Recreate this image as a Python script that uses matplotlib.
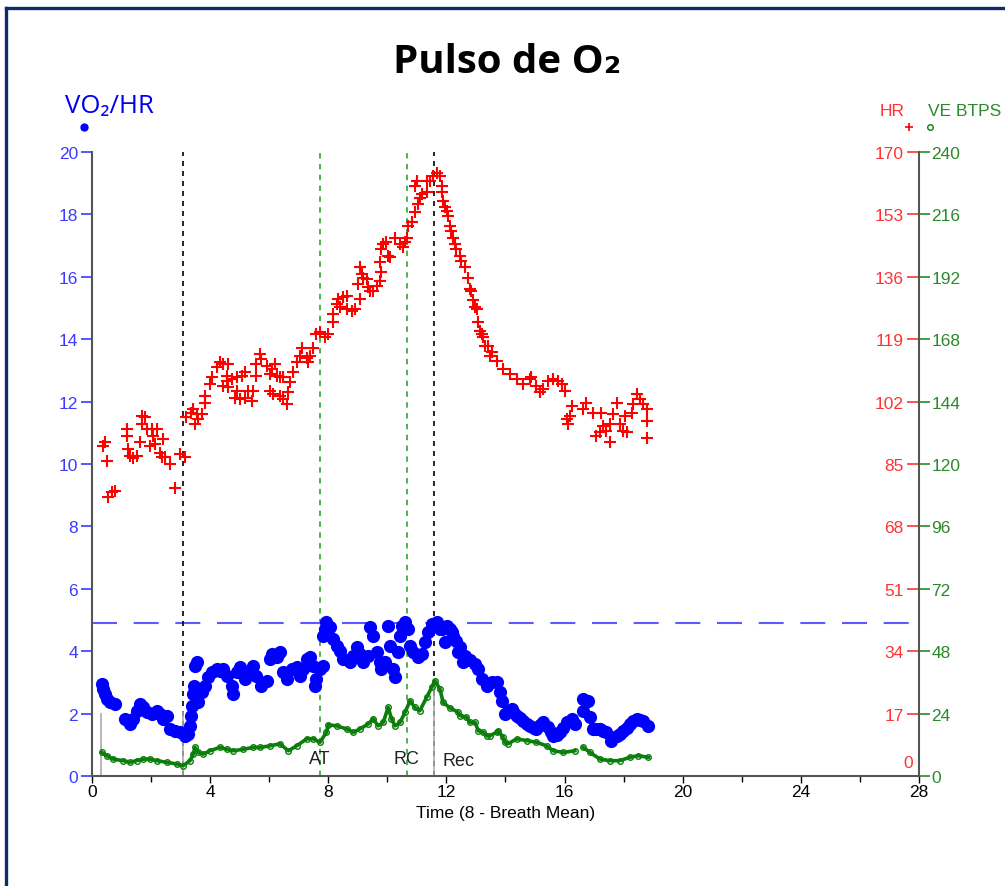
import numpy as np
import matplotlib
matplotlib.use("Agg")
import matplotlib.pyplot as plt
from matplotlib.lines import Line2D
from matplotlib.ticker import MultipleLocator

# =========================
# Daten
# =========================
# VO2/HR (ml/Schlag), linke Achse
vo2hr_t = [0.33, 0.38, 0.44, 0.50, 0.61, 0.78, 1.12, 1.29, 1.40, 1.51, 1.62, 1.74, 1.85, 2.02,
           2.19, 2.30, 2.41, 2.53, 2.64, 2.81, 2.98, 3.15, 3.26, 3.32, 3.37, 3.40, 3.43, 3.46,
           3.49, 3.54, 3.60, 3.71, 3.83, 3.94, 4.05, 4.22, 4.33, 4.44, 4.56, 4.73, 4.78, 4.90,
           5.01, 5.18, 5.35, 5.46, 5.57, 5.74, 5.91, 6.03, 6.08, 6.25, 6.36, 6.48, 6.59, 6.76,
           6.93, 7.04, 7.15, 7.27, 7.38, 7.49, 7.55, 7.60, 7.72, 7.83, 7.83, 7.89, 7.94, 8.06,
           8.17, 8.28, 8.40, 8.51, 8.73, 8.85, 8.96, 9.07, 9.18, 9.35, 9.41, 9.52, 9.64, 9.75,
           9.80, 9.92, 10.03, 10.09, 10.20, 10.26, 10.37, 10.43, 10.49, 10.60, 10.71, 10.77,
           10.88, 11.05, 11.16, 11.27, 11.38, 11.50, 11.55, 11.67, 11.78, 11.84, 11.95, 12.01,
           12.12, 12.18, 12.23, 12.34, 12.40, 12.46, 12.57, 12.63, 12.80, 12.97, 13.08, 13.19,
           13.36, 13.53, 13.70, 13.81, 13.87, 13.98, 14.10, 14.21, 14.30, 14.38, 14.50, 14.60,
           14.72, 14.83, 14.95, 15.05, 15.17, 15.28, 15.45, 15.55, 15.62, 15.73, 15.84, 15.96,
           16.07, 16.24, 16.35, 16.63, 16.80, 16.63, 16.86, 16.97, 17.08, 17.20, 17.31, 17.42,
           17.59, 17.76, 17.87, 17.98, 18.10, 18.21, 18.32, 18.44, 18.55, 18.66, 18.84]
vo2hr = [2.95, 2.79, 2.63, 2.47, 2.36, 2.31, 1.83, 1.67, 1.83, 2.09, 2.31, 2.20, 2.04, 1.99,
         2.09, 1.99, 1.83, 1.93, 1.51, 1.45, 1.40, 1.29, 1.35, 1.61, 1.93, 2.25, 2.63, 2.89,
         3.54, 3.64, 2.36, 2.68, 2.89, 3.16, 3.32, 3.43, 3.38, 3.43, 3.21, 2.89, 2.63, 3.32,
         3.48, 3.11, 3.32, 3.54, 3.21, 2.89, 3.05, 3.75, 3.91, 3.80, 3.96, 3.32, 3.11, 3.43,
         3.48, 3.21, 3.43, 3.75, 3.80, 3.54, 2.89, 3.11, 3.43, 3.54, 4.50, 4.71, 4.95, 4.77,
         4.39, 4.18, 4.02, 3.75, 3.64, 3.86, 4.12, 3.91, 3.64, 3.86, 4.77, 4.50, 3.96, 3.64,
         3.43, 3.64, 4.82, 4.18, 3.43, 3.16, 3.96, 4.50, 4.82, 4.93, 4.71, 4.18,
         3.96, 3.80, 3.91, 4.29, 4.60, 4.87, 4.82, 4.93, 4.71, 4.71, 4.29, 4.82,
         4.71, 4.60, 4.50, 4.34, 3.96, 4.12, 3.64, 3.86, 3.72, 3.59, 3.43, 3.11,
         2.89, 3.00, 3.00, 2.68, 2.40, 2.00, 2.08, 2.15, 2.02, 1.93, 1.85, 1.77,
         1.68, 1.61, 1.55, 1.51, 1.62, 1.72, 1.56, 1.40, 1.29, 1.33, 1.40, 1.55,
         1.72, 1.83, 1.67, 2.47, 2.41, 2.09, 1.88, 1.51, 1.50, 1.51, 1.45, 1.40,
         1.13, 1.29, 1.36, 1.45, 1.55, 1.67, 1.75, 1.83, 1.80, 1.77, 1.61]

# Herzfrequenz (1/min)
hr_t = [0.38, 0.44, 0.50, 0.55, 0.67, 0.78, 1.17, 1.17, 1.23, 1.29, 1.40, 1.51, 1.62, 1.68,
        1.68, 1.79, 1.85, 1.96, 2.02, 2.07, 2.13, 2.19, 2.30, 2.36, 2.41, 2.47, 2.64, 2.81,
        2.98, 3.15, 3.20, 3.37, 3.43, 3.49, 3.54, 3.60, 3.71, 3.83, 3.83, 3.99, 4.05, 4.22,
        4.33, 4.44, 4.44, 4.56, 4.56, 4.61, 4.61, 4.73, 4.84, 4.90, 4.90, 5.01, 5.07, 5.18,
        5.18, 5.29, 5.41, 5.46, 5.57, 5.57, 5.69, 5.74, 5.91, 6.03, 6.03, 6.08, 6.14, 6.20,
        6.25, 6.36, 6.36, 6.48, 6.48, 6.59, 6.65, 6.70, 6.81, 6.93, 7.04, 7.10, 7.27, 7.32,
        7.38, 7.49, 7.60, 7.72, 7.89, 8.00, 8.17, 8.17, 8.28, 8.34, 8.40, 8.51, 8.62, 8.62,
        8.79, 8.90, 9.01, 9.07, 9.07, 9.13, 9.18, 9.30, 9.35, 9.41, 9.52, 9.64, 9.75, 9.75,
        9.80, 9.80, 9.86, 9.97, 10.03, 10.09, 10.26, 10.43, 10.54, 10.60, 10.65, 10.71, 10.82,
        10.93, 10.93, 10.99, 11.05, 11.10, 11.16, 11.33, 11.33, 11.44, 11.55, 11.67, 11.78,
        11.84, 11.84, 11.89, 11.95, 12.01, 12.06, 12.12, 12.17, 12.23, 12.29, 12.34, 12.46,
        12.51, 12.63, 12.74, 12.80, 12.85, 12.91, 12.97, 13.02, 13.08, 13.13, 13.19, 13.25,
        13.30, 13.42, 13.47, 13.53, 13.70, 13.92, 14.15, 14.38, 14.60, 14.83, 14.88, 15.05,
        15.17, 15.28, 15.45, 15.62, 15.79, 15.90, 16.01, 16.07, 16.12, 16.18, 16.24, 16.63,
        16.74, 16.97, 17.08, 17.20, 17.25, 17.31, 17.42, 17.53, 17.53, 17.64, 17.76, 17.87,
        17.98, 18.04, 18.10, 18.27, 18.32, 18.44, 18.55, 18.66, 18.78, 18.78, 18.78]
hr_bpm = [90.0, 91.0, 85.9, 76.0, 77.4, 77.7, 94.5, 92.7, 89.1, 87.3, 86.7, 87.3, 91.0, 98.2,
          95.9, 97.7, 94.5, 90.0, 94.5, 92.7, 90.4, 94.5, 88.1, 86.8, 91.8, 86.8, 85.0, 78.6,
          87.7, 86.8, 97.7, 99.0, 100.0, 95.9, 98.6, 97.2, 98.6, 101.7, 103.5, 106.8, 108.6, 111.4,
          112.7, 112.2, 106.3, 109.1, 107.6, 112.2, 105.9, 108.1, 103.1, 108.6, 105.0, 102.7, 109.1, 110.0,
          103.1, 105.0, 102.3, 105.0, 112.2, 109.1, 115.0, 113.6, 111.8, 109.5, 105.0, 110.8, 104.0, 112.2,
          109.1, 108.6, 103.5, 108.6, 102.7, 101.3, 104.6, 107.3, 110.0, 112.7, 114.5, 116.7, 114.0, 112.7,
          114.5, 116.7, 120.4, 120.9, 119.5, 120.4, 123.6, 125.9, 128.6, 130.0, 127.7, 130.4, 130.8, 127.2,
          126.7, 127.2, 134.0, 138.6, 130.0, 136.8, 135.8, 135.4, 133.1, 132.2, 132.2, 133.5, 134.9, 139.9,
          137.2, 143.6, 144.9, 145.4, 141.8, 141.3, 146.7, 144.9, 144.0, 145.4, 146.7, 149.9, 150.8,
          153.6, 160.7, 162.1, 155.8, 157.6, 158.5, 159.0, 162.1, 162.1, 163.5, 164.4, 163.5,
          160.7, 159.0, 156.7, 154.9, 154.0, 152.7, 149.9, 148.6, 146.7, 144.9, 143.6, 141.8,
          140.3, 138.6, 135.8, 132.6, 132.2, 129.7, 127.7, 127.2, 123.8, 121.3, 120.4, 119.5,
          117.2, 117.2, 114.5, 115.4, 113.1, 110.8, 109.5, 108.1, 106.8, 108.1, 108.6, 106.3,
          104.5, 105.4, 107.7, 108.1, 107.7, 106.8, 105.0, 97.2, 95.9, 98.2, 100.8, 100.0,
          101.7, 99.0, 92.7, 93.6, 99.0, 95.4, 94.0, 90.9, 95.9, 98.6, 101.7, 95.9,
          94.0, 98.2, 93.6, 99.0, 101.3, 104.0, 102.7, 101.3, 100.0, 96.7, 92.2]

# Ventilation VE BTPS (l/min), Luecke bei ~16.5 min
ve_t = [0.33, 0.50, 0.72, 1.06, 1.29, 1.51, 1.74, 1.96, 2.19, 2.53, 2.87, 3.09, 3.32, 3.43,
        3.49, 3.60, 3.77, 3.99, 4.33, 4.56, 4.78, 5.12, 5.46, 5.69, 6.03, 6.36, 6.65, 6.93,
        7.27, 7.49, 7.72, 7.94, 8.00, 8.28, 8.62, 8.85, 9.07, 9.35, 9.52, 9.69, 9.86, 10.03,
        10.14, 10.26, 10.43, 10.60, 10.77, 10.93, 11.10, 11.33, 11.50, 11.61, 11.78, 11.89,
        12.12, 12.40, 12.46, 12.68, 12.80, 12.97, 13.08, 13.25, 13.36, 13.47, 13.70, 13.76,
        13.92, 13.98, 14.09, 14.38, 14.72, 15.05, 15.39, 15.62, 15.96, 16.35, 16.50, 16.63,
        16.86, 17.20, 17.53, 17.87, 18.21, 18.49, 18.84]
ve = [9.1, 7.8, 6.5, 5.9, 5.3, 5.9, 6.5, 6.5, 5.9, 5.3, 4.6, 4.0, 5.9, 8.4,
      11.0, 9.1, 8.4, 9.7, 11.0, 10.3, 9.7, 10.3, 11.0, 11.0, 11.6, 12.4, 9.7, 11.6,
      14.3, 14.3, 13.0, 16.8, 19.7, 19.3, 18.1, 16.8, 18.1, 20.0, 22.0, 19.3, 20.6, 26.4,
      22.0, 19.3, 20.6, 24.5, 28.9, 26.4, 25.1, 30.2, 34.1, 36.6, 33.5, 28.3,
      26.2, 24.5, 23.2, 22.6, 20.6, 20.6, 17.4, 16.8, 15.5, 15.5, 16.8, 17.4,
      14.9, 13.0, 12.4, 14.3, 13.6, 13.0, 11.6, 9.7, 9.1, 9.7, np.nan, 11.0,
      9.1, 6.5, 5.9, 5.9, 7.2, 7.8, 7.2]

# Markierungen (min)
t_start_belastung = 3.08
t_at = 7.72
t_rc = 10.66
t_rec = 11.58
vo2hr_ref = 4.9

# =========================
# Plot
# =========================
BLUE = "#0000ff"
RED = "#ff0000"
GREEN = "#0a7d0a"
AXCOL = "#555555"

fig = plt.figure(figsize=(10.05, 8.87), dpi=100)
ax = fig.add_axes([0.0915, 0.124, 0.8229, 0.7035])
ax_hr = ax.twinx()
ax_ve = ax.twinx()

# Referenzlinien
ax.axhline(vo2hr_ref, color="#5a5aff", lw=1.5, dashes=(12, 8), zorder=1)
ax.axvline(t_start_belastung, color="black", lw=1.2, dashes=(3, 3), zorder=1)
ax.axvline(t_at, color="#3fae3f", lw=1.3, dashes=(3, 3), zorder=1)
ax.axvline(t_rc, color="#3fae3f", lw=1.3, dashes=(3, 3), zorder=1)
ax.axvline(t_rec, color="black", lw=1.2, dashes=(3, 3), zorder=1)
ax.plot([0.3, 0.3], [0, 2.0], color="#aaaaaa", lw=1.2, zorder=1)
ax.plot([t_start_belastung, t_start_belastung], [0, 2.05], color="#aaaaaa", lw=1.2, zorder=1)
ax.plot([t_rec, t_rec], [0, 3.0], color="#aaaaaa", lw=1.2, zorder=1)

ax.text(t_at, 0.55, "AT", ha="center", va="center", fontsize=13, color="#222222",
        family="Liberation Sans")
ax.text(t_rc - 0.02, 0.55, "RC", ha="center", va="center", fontsize=13, color="#222222",
        family="Liberation Sans")
ax.text(t_rec + 0.3, 0.5, "Rec", ha="left", va="center", fontsize=13, color="#222222",
        family="Liberation Sans")

# Messreihen
ax.plot(vo2hr_t, vo2hr, "o", color=BLUE, ms=9.5, mew=0, zorder=3)
ax_ve.plot(ve_t, ve, "-", color=GREEN, lw=2.6, zorder=3)
ax_ve.plot(ve_t, ve, "o", color=GREEN, ms=4, mfc="none", mew=1.0, zorder=3)
ax_hr.plot(hr_t, hr_bpm, "+", color=RED, ms=8, mew=1.5, zorder=3)

# Linke Achse VO2/HR
ax.set_xlim(0, 28)
ax.set_ylim(0, 20)
ax.set_yticks(np.arange(0, 21, 2))
ax.set_xticks(np.arange(0, 29, 4))
ax.xaxis.set_minor_locator(MultipleLocator(2))
ax.tick_params(axis="y", colors="#3b3bff", length=8, width=1.2, pad=2, labelsize=12.5)
ax.tick_params(axis="x", which="major", colors="black", length=5, width=1, labelsize=12.5, pad=1)
ax.tick_params(axis="x", which="minor", colors="black", length=4, width=1)
for lbl in ax.get_xticklabels() + ax.get_yticklabels():
    lbl.set_family("Liberation Sans")
for s in ["top", "right"]:
    ax.spines[s].set_visible(False)
for s in ["left", "bottom"]:
    ax.spines[s].set_color(AXCOL)
    ax.spines[s].set_linewidth(1.5)
ax.set_xlabel("Time (8 - Breath Mean)", fontsize=12.5, family="Liberation Sans", labelpad=4)

# HR-Achse: Beschriftung links vom rechten Rand
ax_hr.set_ylim(0, 170)
ax_hr.yaxis.tick_left()
ax_hr.spines["left"].set_position(("axes", 1.0))
ax_hr.set_yticks(np.arange(17, 171, 17))
ax_hr.tick_params(axis="y", colors="#ff3333", length=9, width=1.2, pad=2, labelsize=12.5)
for lbl in ax_hr.get_yticklabels():
    lbl.set_family("Liberation Sans")
for s in ["top", "bottom", "right", "left"]:
    ax_hr.spines[s].set_visible(False)
ax_hr.annotate("0", xy=(1.0, 0.0), xycoords="axes fraction", xytext=(-4, 10),
               textcoords="offset points", ha="right", va="center", fontsize=12.5,
               color="#ff3333", family="Liberation Sans")

# VE-Achse rechts
ax_ve.set_ylim(0, 240)
ax_ve.set_yticks(np.arange(0, 241, 24))
ax_ve.tick_params(axis="y", colors="#2a8a2a", length=8, width=1.2, pad=1, labelsize=12.5)
for lbl in ax_ve.get_yticklabels():
    lbl.set_family("Liberation Sans")
for s in ["top", "bottom", "left"]:
    ax_ve.spines[s].set_visible(False)
ax_ve.spines["right"].set_color(AXCOL)
ax_ve.spines["right"].set_linewidth(1.5)

# Kopfzeile
fig.text(0.505, 0.93, "Pulso de O\u2082", ha="center", va="center", fontsize=29,
         fontweight="bold", family=["Open Sans", "DejaVu Sans"])
fig.text(65 / 1005, 1 - 106 / 887, "VO\u2082/HR", ha="left", va="center", fontsize=18.5,
         color="#0000ee", family=["Open Sans", "DejaVu Sans"])
fig.text(880 / 1005, 1 - 111 / 887, "HR", ha="left", va="center", fontsize=12.5,
         color="#ff3333", family="Liberation Sans")
fig.text(928 / 1005, 1 - 111 / 887, "VE BTPS", ha="left", va="center", fontsize=12.5,
         color="#2a8a2a", family="Liberation Sans")

# Legendensymbole
ax.plot([-0.0097], [1.04], "o", color=BLUE, ms=6, mew=0, transform=ax.transAxes, clip_on=False)
ax.plot([0.988], [1.04], "+", color=RED, ms=6, mew=1.2, transform=ax.transAxes, clip_on=False)
ax.plot([1.013], [1.04], "o", color=GREEN, ms=4, mfc="none", mew=1, transform=ax.transAxes,
        clip_on=False)

# Rahmen
fig.add_artist(Line2D([5.5 / 1005, 5.5 / 1005], [0, 1 - 8.5 / 887], color="#102a6e", lw=2.4))
fig.add_artist(Line2D([5.5 / 1005, 1], [1 - 8.5 / 887, 1 - 8.5 / 887], color="#102a6e", lw=2.4))

fig.savefig("out.png", dpi=100)
